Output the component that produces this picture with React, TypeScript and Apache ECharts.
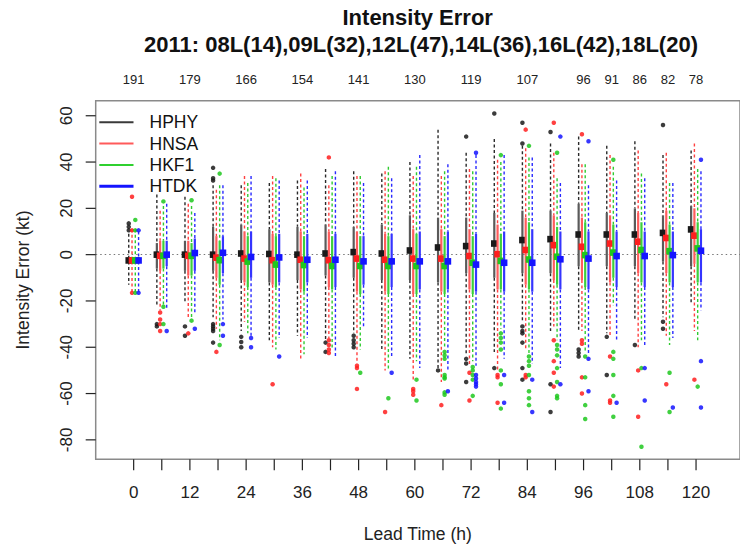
import React, { useEffect, useRef } from "react";
import * as echarts from "echarts";

const leads = [0, 6, 12, 18, 24, 30, 36, 42, 48, 54, 60, 66, 72, 78, 84, 90, 96, 102, 108, 114, 120];
const xLabelValues = [0, 12, 24, 36, 48, 60, 72, 84, 96, 108, 120];
const yTickValues = [-80, -60, -40, -20, 0, 20, 40, 60];
const countLeads = [0, 12, 24, 36, 48, 60, 72, 84, 96, 102, 108, 114, 120];
const counts = [191, 179, 166, 154, 141, 130, 119, 107, 96, 91, 86, 82, 78];
const models = ["HPHY", "HNSA", "HKF1", "HTDK"];

// [low whisker, Q1, median, Q3, high whisker] for each lead time
const hphyBox = [
  [-13, -3, -2.5, -1, 9], [-22, -6, 0, 5, 26], [-21, -7, 0, 6, 25], [-27, -7, 0, 12, 30],
  [-33, -11, 0.5, 13, 30], [-37, -12, 0.3, 11, 31], [-35, -11, 0, 12, 32], [-37, -9, 0.5, 13, 37],
  [-34, -10, 1.1, 12, 36], [-41, -11, 0.5, 13, 35], [-45, -11, 1.8, 17, 40], [-49, -12, 3.1, 16, 54],
  [-43, -8, 3.7, 16, 44], [-42, -10, 4.8, 18, 50], [-29, -8, 6.3, 19, 47], [-33, -8, 6.7, 19, 48],
  [-33, -5, 8.7, 22, 51], [-34, -5, 8.7, 18, 47], [-28, -5, 8.7, 20, 49], [-27, -3, 9.4, 17, 43],
  [-21, -5, 10.9, 21, 45],
];
const hnsaBox = [
  [-16, -3, -2.5, -1, 11], [-24, -7, -0.5, 6, 19], [-28, -9, -0.5, 6, 22], [-32, -10, -1.3, 8, 28],
  [-29, -12, -1.7, 10, 34], [-40, -13, -2.4, 9, 34], [-45, -15, -2.2, 10, 35], [-36, -14, -2.4, 10, 30],
  [-47, -16, -1.7, 10, 34], [-50, -16, -2.2, 9, 36], [-55, -17, -1.7, 11, 34], [-55, -16, -1.7, 11, 34],
  [-48, -15, -0.6, 11, 37], [-50, -15, 0.2, 13, 41], [-41, -13, 2, 16, 46], [-31, -11, 4.1, 17, 44],
  [-33, -11, 3.4, 16, 39], [-35, -12, 4.8, 17, 43], [-40, -8, 5.6, 18, 45], [-35, -8, 7.2, 19, 44],
  [-33, -4, 8.2, 20, 48],
];
const hkf1Box = [
  [-16, -3, -2.5, -1, 11], [-22, -6, -0.5, 6, 21], [-28, -9, -0.5, 5, 21], [-37, -13, -2.4, 6, 30],
  [-34, -14, -3, 8, 31], [-41, -14, -4.3, 8, 33], [-43, -16, -4.5, 8, 29], [-41, -15, -4.9, 8, 34],
  [-41, -17, -4.9, 8, 34], [-50, -17, -4.9, 8, 38], [-46, -17, -4.9, 9, 38], [-40, -17, -4.9, 8, 36],
  [-46, -17, -3.5, 8, 36], [-32, -15, -2.7, 9, 40], [-43, -15, -2.1, 14, 42], [-37, -13, -0.9, 12, 33],
  [-42, -14, -0.2, 14, 39], [-22, -10, 0.9, 13, 38], [-37, -12, 2, 14, 35], [-39, -12, 1.5, 13, 31],
  [-37, -12, 2.7, 14, 37],
];
const htdkBox = [
  [-16, -3, -2.5, -1, 10], [-24, -5, 0, 6, 22], [-25, -7, 0.7, 7, 18], [-28, -8, 0.8, 8, 30],
  [-35, -10, -1, 10, 34], [-36, -12, -1.2, 9, 32], [-36, -12, -2.2, 9, 32], [-44, -14, -2.2, 9, 36],
  [-32, -13, -2.9, 8, 31], [-44, -14, -2.9, 9, 33], [-49, -15, -2.9, 10, 43], [-50, -15, -2.9, 10, 39],
  [-48, -16, -4.3, 9, 43], [-45, -16, -3.5, 10, 43], [-47, -16, -3.5, 11, 42], [-49, -15, -2, 10, 31],
  [-43, -15, -1.7, 10, 30], [-37, -14, -0.6, 10, 32], [-40, -14, -0.6, 10, 33], [-36, -14, -0.2, 10, 31],
  [-24, -12, 1.7, 11, 36],
];

// outliers: [lead time, error]
const hphyOut = [
  [0, 10.5], [0, 12], [0, 13.5], [6, -30], [6, -31], [12, -31], [12, -35], [18, 32], [18, 33], [18, 37.5],
  [18, -30], [18, -31], [18, -32], [18, -33], [18, -38], [24, -35.5], [24, -37.7], [24, -40], [42, -38], [42, -42],
  [48, -35], [48, -37], [48, -38.5], [48, -40], [66, -50], [72, 51], [72, -45], [72, -47], [72, -55], [78, 61],
  [78, -49], [84, 57], [84, 48], [84, -31], [84, -33], [84, -34], [84, -38], [84, -49], [84, -54], [90, 53],
  [90, -56], [90, -68], [96, -41], [96, -42.5], [96, -44], [102, -35.5], [102, -52], [108, -39], [114, 56],
  [114, -29], [114, -32],
];
const hnsaOut = [
  [0, 25], [0, 10.5], [0, -16.5], [6, -25], [6, -28], [6, -30], [6, -33], [12, -34], [18, -42], [30, -56],
  [42, 42], [42, -37], [42, -39], [42, -41], [42, -42.5], [48, -48], [48, -49], [48, -58], [54, -68], [60, -58],
  [60, -59], [60, -60.5], [66, -65], [72, -51], [72, -63], [78, -52], [78, -53], [78, -64], [84, 54], [84, -52],
  [84, -53], [90, 57], [90, -37], [90, -46], [90, -51], [90, -57], [96, 52], [96, -37], [96, -38.5], [96, -53],
  [96, -60], [102, -44], [102, -63], [102, -64], [108, -50], [108, -70], [114, -56], [120, -54],
];
const hkf1Out = [
  [0, 15], [0, 10.5], [0, -16.5], [6, 23], [6, -22.5], [6, -30], [12, 23.5], [12, -28.5], [18, 35], [18, -39],
  [48, -51], [54, -62], [60, -54], [60, -63], [66, -42], [66, -43.5], [66, -45], [66, -52], [66, -53], [66, -53.5],
  [66, -59.5], [66, -60.5], [72, -48.5], [72, -50], [72, -52], [72, -54], [72, -61], [78, 43], [78, -34], [78, -36],
  [78, -38], [78, -41], [78, -50], [78, -56], [78, -66.5], [84, 47], [84, -44], [84, -46], [84, -48], [84, -52],
  [84, -59], [84, -62], [84, -65], [90, 44], [90, -39], [90, -41], [90, -43.5], [90, -49], [90, -55], [90, -61],
  [90, -62], [96, -44], [96, -53], [96, -65], [96, -71], [102, 41], [102, -42], [102, -45], [102, -52], [102, -61],
  [102, -70], [108, -49], [108, -83], [114, -51], [114, -68], [120, -57],
];
const htdkOut = [
  [0, 10.5], [0, -16.5], [6, -33], [12, -32], [18, -30], [18, -35], [24, -36], [24, -40], [30, -44], [54, -51],
  [66, -59], [72, 44], [72, -52], [72, -53.5], [72, -55], [72, -56], [72, -57], [78, -52], [78, -64], [84, -54],
  [84, -68], [90, 51], [90, -56], [96, 49], [96, -45], [96, -59], [102, -64], [108, -49], [108, -63], [114, -66],
  [120, 41], [120, -46], [120, -66],
];

const boxes = [hphyBox, hnsaBox, hkf1Box, htdkBox];
const outs = [hphyOut, hnsaOut, hkf1Out, htdkOut];
const offsets = [-1.05, -0.35, 0.35, 1.05];
const legendColors = ["#3a3a3a", "#ff5a5a", "#2fd02f", "#1414ff"];
const medColors = ["#1a1a1a", "#ff1e1e", "#1ec81e", "#1414ff"];
const boxColors = ["#5a5a5a", "#ff5c5c", "#3cd03c", "#3535ff"];
const whiskerColors = ["#2a2a2a", "#ff4040", "#30cc30", "#2a2aff"];
const FONT = "'Liberation Sans', Arial, Helvetica, sans-serif";
const FRAME = "#8a8a8a";
const TICK = "#222";

const X_MIN = -8.1;
const X_MAX = 129.38;
const Y_MIN = -88.4;
const Y_MAX = 66.5;

function makeRender(k: number) {
  return (params: any, api: any) => {
    const lead = api.value(0);
    const x = lead + offsets[k];
    const lo = api.coord([x, api.value(1)]);
    const q1 = api.coord([x, api.value(2)]);
    const md = api.coord([x, api.value(3)]);
    const q3 = api.coord([x, api.value(4)]);
    const hi = api.coord([x, api.value(5)]);
    const dash = { stroke: whiskerColors[k], lineWidth: 1.4, lineDash: [3, 2.5] };
    const children: any[] = [
      { type: "line", shape: { x1: hi[0], y1: hi[1], x2: q3[0], y2: q3[1] }, style: dash },
      { type: "line", shape: { x1: q1[0], y1: q1[1], x2: lo[0], y2: lo[1] }, style: dash },
      {
        type: "rect",
        shape: { x: q3[0] - 1.1, y: q3[1], width: 2.2, height: Math.max(0, q1[1] - q3[1]) },
        style: { fill: boxColors[k] },
      },
      {
        type: "rect",
        shape: { x: md[0] - 3.3, y: md[1] - 3.3, width: 6.6, height: 6.6 },
        style: { fill: medColors[k] },
      },
    ];
    if (k === 0) {
      // outward x-axis tick at this lead time
      const t = api.coord([lead, Y_MIN]);
      children.push({
        type: "rect",
        shape: { x: t[0] - 0.6, y: t[1], width: 1.2, height: 11 },
        style: { fill: TICK },
      });
    }
    return { type: "group", children };
  };
}

function renderYTick(params: any, api: any) {
  const p = api.coord([X_MIN, api.value(1)]);
  return {
    type: "rect",
    shape: { x: p[0] - 10, y: p[1] - 0.6, width: 10, height: 1.2 },
    style: { fill: TICK },
  };
}

export default function App() {
  const ref = useRef<HTMLDivElement>(null);
  useEffect(() => {
    if (!ref.current) return;
    const chart = echarts.init(ref.current, undefined, { renderer: "svg" });
    const series: any[] = [];
    models.forEach((name, k) => {
      series.push({
        name,
        type: "custom",
        xAxisIndex: 0,
        yAxisIndex: 0,
        clip: false,
        renderItem: makeRender(k),
        encode: { x: 0, y: [1, 2, 3, 4, 5] },
        itemStyle: { color: legendColors[k] },
        data: leads.map((l, i) => [l, ...boxes[k][i]]),
        z: 3,
      });
    });
    models.forEach((name, k) => {
      series.push({
        name,
        type: "scatter",
        xAxisIndex: 0,
        yAxisIndex: 0,
        symbol: "circle",
        symbolSize: 4.5,
        itemStyle: { color: medColors[k], opacity: 0.85 },
        data: outs[k].map(([l, v]) => [l + offsets[k], v]),
        z: 4,
        ...(k === 0
          ? {
              markLine: {
                silent: true,
                symbol: "none",
                label: { show: false },
                lineStyle: { type: [1.5, 3], color: "#777", width: 1 },
                data: [{ yAxis: 0 }],
                z: 1,
              },
            }
          : {}),
      });
    });
    series.push({
      name: "yTicks",
      type: "custom",
      xAxisIndex: 0,
      yAxisIndex: 0,
      clip: false,
      silent: true,
      renderItem: renderYTick,
      encode: { x: 0, y: 1 },
      data: yTickValues.map((v) => [X_MIN, v]),
      z: 6,
    });

    const legendItems: any[] = [];
    models.forEach((name, k) => {
      const y = 122.3 + k * 21.3;
      legendItems.push({
        type: "line",
        shape: { x1: 99.3, y1: y, x2: 133.5, y2: y },
        style: { stroke: legendColors[k], lineWidth: k === 3 ? 3 : 2 },
      });
      legendItems.push({
        type: "text",
        x: 149.5,
        y,
        style: { text: name, fontSize: 17.5, fontFamily: FONT, fill: "#111", verticalAlign: "middle", align: "left" },
      });
    });

    chart.setOption({
      animation: false,
      backgroundColor: "#fff",
      grid: {
        left: 95.7,
        top: 100.7,
        width: 650,
        height: 358.6,
        show: true,
        borderColor: FRAME,
        borderWidth: 1.5,
      },
      xAxis: [
        {
          type: "value",
          position: "bottom",
          min: X_MIN,
          max: X_MAX,
          splitLine: { show: false },
          axisLine: { show: false, onZero: false },
          axisTick: { show: false },
          axisLabel: {
            customValues: xLabelValues,
            fontSize: 17,
            fontFamily: FONT,
            color: "#222",
            margin: 25,
          },
          name: "Lead Time (h)",
          nameLocation: "middle",
          nameGap: 66,
          nameTextStyle: { fontSize: 17.5, fontFamily: FONT, color: "#222" },
        },
        {
          type: "value",
          position: "top",
          min: X_MIN,
          max: X_MAX,
          splitLine: { show: false },
          axisLine: { show: false, onZero: false },
          axisTick: { show: false },
          axisLabel: {
            customValues: countLeads,
            formatter: (v: number) => {
              const i = countLeads.indexOf(v);
              return i >= 0 ? String(counts[i]) : "";
            },
            fontSize: 13,
            fontFamily: FONT,
            color: "#222",
            margin: 15,
          },
        },
      ],
      yAxis: {
        type: "value",
        position: "left",
        min: Y_MIN,
        max: Y_MAX,
        splitLine: { show: false },
        axisLine: { show: false, onZero: false },
        axisTick: { show: false },
        axisLabel: {
          customValues: yTickValues,
          rotate: 90,
          fontSize: 17,
          fontFamily: FONT,
          color: "#222",
          margin: 21,
        },
        name: "Intensity Error (kt)",
        nameLocation: "middle",
        nameGap: 64,
        nameTextStyle: { fontSize: 17.5, fontFamily: FONT, color: "#222" },
      },
      graphic: [
        {
          type: "text",
          x: 417.7,
          y: 17,
          style: {
            text: "Intensity Error",
            fontSize: 22,
            fontWeight: "bold",
            fontFamily: FONT,
            fill: "#111",
            align: "center",
            verticalAlign: "middle",
          },
        },
        {
          type: "text",
          x: 421,
          y: 44,
          style: {
            text: "2011: 08L(14),09L(32),12L(47),14L(36),16L(42),18L(20)",
            fontSize: 22,
            fontWeight: "bold",
            fontFamily: FONT,
            fill: "#111",
            align: "center",
            verticalAlign: "middle",
          },
        },
        ...legendItems,
      ],
      series,
    });
    return () => chart.dispose();
  }, []);
  return <div ref={ref} style={{ width: 740, height: 549, position: "absolute", left: 0, top: 0 }} />;
}
